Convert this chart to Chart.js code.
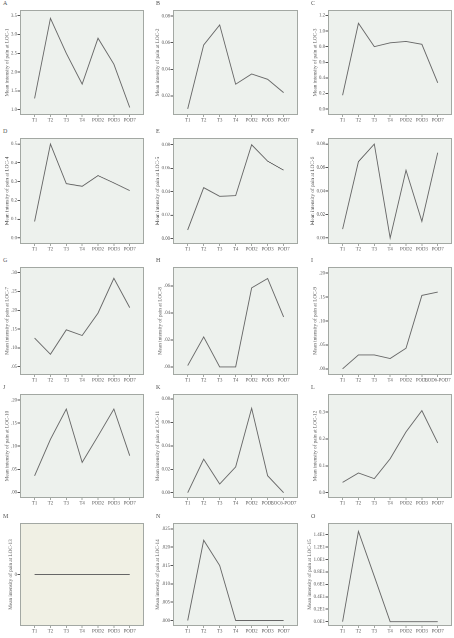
<!DOCTYPE html>
<html>
<head>
<meta charset="utf-8">
<script src="https://cdn.jsdelivr.net/npm/chart.js@4.4.1/dist/chart.umd.min.js"></script>
<style>
  html, body { margin: 0; padding: 0; background: #ffffff; }
  #wrap { position: relative; width: 454px; height: 638px; overflow: hidden; }
  canvas { position: absolute; }
  .tag { position: absolute; font: 6px "Liberation Serif", serif; color: #555; }
</style>
</head>
<body>
<div id="wrap"></div>
<script>
const categories = ["T1", "T2", "T3", "T4", "POD2", "POD3", "POD7"]
const categoriesI = ["T1", "T2", "T3", "T4", "POD2", "POD3", "LOD6-POD7"]
const categoriesK = ["T1", "T2", "T3", "T4", "POD2", "POD3", "LOC6-POD7"]

// mean pain intensity per location
const painA = [1.30, 3.43, 2.50, 1.68, 2.90, 2.21, 1.06]
const painB = [0.0103, 0.0583, 0.0733, 0.0288, 0.0365, 0.0325, 0.0225]
const painC = [0.177, 1.10, 0.80, 0.85, 0.867, 0.83, 0.337]
const painD = [0.0875, 0.50, 0.289, 0.275, 0.332, 0.293, 0.252]
const painE = [0.0074, 0.0434, 0.036, 0.0366, 0.080, 0.066, 0.0583]
const painF = [0.0074, 0.065, 0.080, 0.000, 0.0577, 0.0141, 0.0727]
const painG = [0.126, 0.083, 0.148, 0.133, 0.1925, 0.285, 0.207]
const painH = [0.001, 0.0222, 0, 0, 0.0585, 0.0655, 0.037]
const painI = [0, 0.029, 0.029, 0.0215, 0.043, 0.1535, 0.1606]
const painJ = [0.036, 0.115, 0.1805, 0.065, 0.122, 0.1805, 0.0795]
const painK = [0, 0.0286, 0.0074, 0.022, 0.072, 0.0145, 0]
const painL = [0.038, 0.073, 0.052, 0.126, 0.226, 0.305, 0.185]
const painM = [0, 0, 0, 0, 0, 0, 0]
const painN = [0, 0.0219, 0.015, 0, 0, 0, 0]
const painO = [0, 1.453, 0.73, 0, 0, 0, 0]

// y tick values and their printed labels
const ticksA = [1.0, 1.5, 2.0, 2.5, 3.0, 3.5]
const tickLabelsA = ["1.0", "1.5", "2.0", "2.5", "3.0", "3.5"]
const ticksB = [0.02, 0.04, 0.06, 0.08]
const tickLabelsB = ["0.02", "0.04", "0.06", "0.08"]
const ticksC = [0, 0.2, 0.4, 0.6, 0.8, 1.0, 1.2]
const tickLabelsC = ["0.0", "0.2", "0.4", "0.6", "0.8", "1.0", "1.2"]
const ticksD = [0, 0.1, 0.2, 0.3, 0.4, 0.5]
const tickLabelsD = ["0.0", "0.1", "0.2", "0.3", "0.4", "0.5"]
const ticksE = [0, 0.02, 0.04, 0.06, 0.08]
const tickLabelsE = ["0.00", "0.02", "0.04", "0.06", "0.08"]
const ticksG = [0.05, 0.10, 0.15, 0.20, 0.25, 0.30]
const tickLabelsG = [".05", ".10", ".15", ".20", ".25", ".30"]
const ticksH = [0, 0.02, 0.04, 0.06]
const tickLabelsH = [".00", ".02", ".04", ".06"]
const ticksI = [0, 0.05, 0.10, 0.15, 0.20]
const tickLabelsI = [".00", ".05", ".10", ".15", ".20"]
const ticksL = [0, 0.1, 0.2, 0.3]
const tickLabelsL = ["0.0", "0.1", "0.2", "0.3"]
const ticksM = [0]
const tickLabelsM = ["0"]
const ticksN = [0, 0.005, 0.010, 0.015, 0.020, 0.025]
const tickLabelsN = [".000", ".005", ".010", ".015", ".020", ".025"]
const ticksO = [0, 0.2, 0.4, 0.6, 0.8, 1.0, 1.2, 1.4]
const tickLabelsO = ["0.0E1", "0.2E1", "0.4E1", "0.6E1", "0.8E1", "1.0E1", "1.2E1", "1.4E1"]

const panels = [
  { tag: "A", loc: 1, data: painA, cats: categories, ticks: ticksA, labels: tickLabelsA, min: 0.86, max: 3.65 },
  { tag: "B", loc: 2, data: painB, cats: categories, ticks: ticksB, labels: tickLabelsB, min: 0.0057, max: 0.0845 },
  { tag: "C", loc: 3, data: painC, cats: categories, ticks: ticksC, labels: tickLabelsC, min: -0.076, max: 1.27 },
  { tag: "D", loc: 4, data: painD, cats: categories, ticks: ticksD, labels: tickLabelsD, min: -0.032, max: 0.532 },
  { tag: "E", loc: 5, data: painE, cats: categories, ticks: ticksE, labels: tickLabelsE, min: -0.0046, max: 0.0857 },
  { tag: "F", loc: 6, data: painF, cats: categories, ticks: ticksE, labels: tickLabelsE, min: -0.0051, max: 0.0851 },
  { tag: "G", loc: 7, data: painG, cats: categories, ticks: ticksG, labels: tickLabelsG, min: 0.028, max: 0.315 },
  { tag: "H", loc: 8, data: painH, cats: categories, ticks: ticksH, labels: tickLabelsH, min: -0.006, max: 0.074 },
  { tag: "I", loc: 9, data: painI, cats: categoriesI, ticks: ticksI, labels: tickLabelsI, min: -0.013, max: 0.213 },
  { tag: "J", loc: 10, data: painJ, cats: categories, ticks: ticksI, labels: tickLabelsI, min: -0.012, max: 0.213 },
  { tag: "K", loc: 11, data: painK, cats: categoriesK, ticks: ticksE, labels: tickLabelsE, min: -0.0045, max: 0.0842 },
  { tag: "L", loc: 12, data: painL, cats: categories, ticks: ticksL, labels: tickLabelsL, min: -0.02, max: 0.367 },
  { tag: "M", loc: 13, data: painM, cats: categories, ticks: ticksM, labels: tickLabelsM, min: -1, max: 1 },
  { tag: "N", loc: 14, data: painN, cats: categories, ticks: ticksN, labels: tickLabelsN, min: -0.0015, max: 0.0266 },
  { tag: "O", loc: 15, data: painO, cats: categories, ticks: ticksO, labels: tickLabelsO, min: -0.07, max: 1.588 },
]

// plot-area geometry of the 3x5 grid
const COL_LEFT = [20, 173, 328]
const COL_W = [124, 125, 124]
const ROW_TOP = [9.5, 138.3, 267, 394, 522.5]
const ROW_H = [105.5, 105.7, 108, 104, 103.5]
const PAD_L = 28, PAD_R = 4, PAD_T = 4, PAD_B = 11
const TICK_LEN = 2.5, TICK_PAD = 0.5

const COLOR_TEXT = "#555555"
const COLOR_FRAME = "#a3a8a3"
const COLOR_LINE = "#666666"
const FONT = "'Liberation Serif', serif"
const TICK_SIZE = 4.8
const TITLE_SIZE = 5.2

const frame = {
  id: "frame",
  beforeDraw(chart, args, opts) {
    const { ctx, chartArea: a } = chart
    ctx.save()
    ctx.fillStyle = opts.bg
    ctx.fillRect(a.left, a.top, a.right - a.left, a.bottom - a.top)
    ctx.restore()
  },
  afterDraw(chart) {
    const { ctx, chartArea: a } = chart
    ctx.save()
    ctx.strokeStyle = COLOR_FRAME
    ctx.lineWidth = 1
    ctx.strokeRect(Math.round(a.left) + 0.5, Math.round(a.top) + 0.5,
      Math.round(a.right - a.left) - 1, Math.round(a.bottom - a.top) - 1)
    ctx.restore()
  },
}

const measure = document.createElement("canvas").getContext("2d")
measure.font = TICK_SIZE + "px " + FONT

const wrap = document.getElementById("wrap")

panels.forEach((p, n) => {
  const col = n % 3, row = Math.floor(n / 3)
  const w = COL_W[col] + PAD_L + PAD_R
  const h = ROW_H[row] + PAD_T + PAD_B
  const canvas = document.createElement("canvas")
  canvas.width = w
  canvas.height = h
  canvas.style.left = (COL_LEFT[col] - PAD_L) + "px"
  canvas.style.top = (ROW_TOP[row] - PAD_T) + "px"
  canvas.style.width = w + "px"
  canvas.style.height = h + "px"
  wrap.appendChild(canvas)

  const tag = document.createElement("div")
  tag.className = "tag"
  tag.textContent = p.tag
  tag.style.left = (COL_LEFT[col] - 17) + "px"
  tag.style.top = (ROW_TOP[row] - 10) + "px"
  wrap.appendChild(tag)

  // keep the axis title just left of the widest tick label
  const labelW = Math.max(...p.labels.map((s) => measure.measureText(s).width))
  const titleGap = TICK_LEN + TICK_PAD + labelW + 1.5 + TITLE_SIZE / 2
  const titlePadTop = Math.max(0, PAD_L - titleGap - TITLE_SIZE * 0.6)

  new Chart(canvas.getContext("2d"), {
    type: "line",
    data: {
      datasets: [{
        data: p.data.map((y, i) => ({ x: i, y })),
        borderColor: COLOR_LINE,
        borderWidth: 0.9,
        pointRadius: 0,
        tension: 0,
        fill: false,
      }],
    },
    options: {
      responsive: false,
      animation: false,
      devicePixelRatio: 2,
      layout: { autoPadding: false, padding: { top: PAD_T, right: PAD_R, left: 0, bottom: 0 } },
      plugins: {
        legend: { display: false },
        tooltip: { enabled: false },
        frame: { bg: p.tag === "M" ? "#f0f0e4" : "#edf1ed" },
      },
      scales: {
        x: {
          type: "linear",
          min: -0.92,
          max: 6.9,
          afterBuildTicks: (axis) => { axis.ticks = p.cats.map((_, i) => ({ value: i })) },
          afterFit: (axis) => { axis.height = PAD_B },
          ticks: {
            color: COLOR_TEXT,
            font: { family: FONT, size: TICK_SIZE },
            padding: 0.5,
            maxRotation: 0,
            autoSkip: false,
            callback: (v, i) => p.cats[i],
          },
          grid: { drawOnChartArea: false, drawTicks: true, tickLength: 2, color: COLOR_FRAME },
          border: { display: false },
        },
        y: {
          min: p.min,
          max: p.max,
          afterBuildTicks: (axis) => { axis.ticks = p.ticks.map((v) => ({ value: v })) },
          afterFit: (axis) => { axis.width = PAD_L },
          ticks: {
            color: COLOR_TEXT,
            font: { family: FONT, size: TICK_SIZE },
            padding: TICK_PAD,
            callback: (v, i) => p.labels[i],
          },
          grid: { drawOnChartArea: false, drawTicks: true, tickLength: TICK_LEN, color: COLOR_TEXT },
          border: { display: false },
          title: {
            display: true,
            text: "Mean intensity of pain at LOC-" + p.loc,
            color: COLOR_TEXT,
            font: { family: FONT, size: TITLE_SIZE },
            padding: { top: titlePadTop, bottom: 0 },
          },
        },
      },
    },
    plugins: [frame],
  })
})
</script>
</body>
</html>
